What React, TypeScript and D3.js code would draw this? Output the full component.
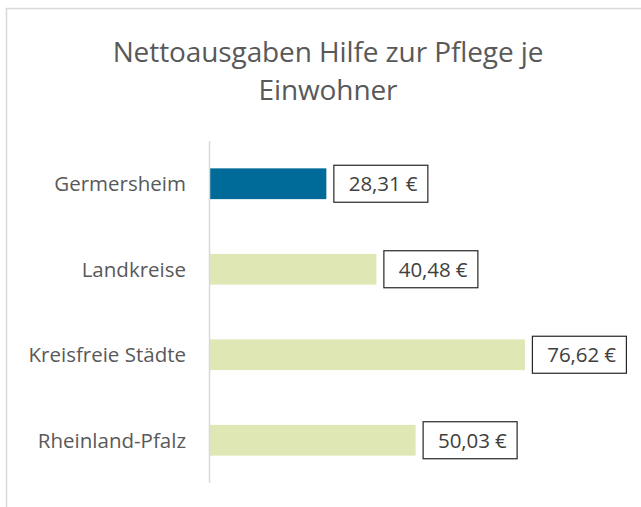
import React, { useEffect, useRef } from 'react';
import * as d3 from 'd3';

const categories = ['Germersheim', 'Landkreise', 'Kreisfreie Städte', 'Rheinland-Pfalz'];
const values = [28.31, 40.48, 76.62, 50.03];
const titleLines = ['Nettoausgaben Hilfe zur Pflege je', 'Einwohner'];

const W = 641;
const H = 507;
const FONT = "'Open Sans', 'Noto Sans', sans-serif";

const App: React.FC = () => {
  const svgRef = useRef<SVGSVGElement>(null);

  useEffect(() => {
    if (!svgRef.current) return;
    const svg = d3.select(svgRef.current);
    svg.selectAll('*').remove();

    // chart frame
    svg.append('rect')
      .attr('x', 6.5).attr('y', 8.5)
      .attr('width', W + 10).attr('height', H + 10)
      .attr('fill', '#fff')
      .attr('stroke', '#d9d9d9')
      .attr('stroke-width', 1.5);

    // title
    svg.append('g')
      .selectAll('text')
      .data(titleLines)
      .join('text')
      .attr('x', 328)
      .attr('y', (d, i) => 62 + i * 38)
      .attr('text-anchor', 'middle')
      .attr('fill', '#595959')
      .style('font-family', FONT)
      .style('font-size', '28px')
      .style('letter-spacing', '-0.1px')
      .text(d => d);

    const x = d3.scaleLinear().domain([0, 80]).range([210, 210 + 80 * 4.11]);
    const y = d3.scaleBand<string>()
      .domain(categories)
      .range([141, 483])
      .paddingInner(0.64)
      .paddingOuter(0.32);

    // bars
    svg.append('g')
      .selectAll('rect')
      .data(categories)
      .join('rect')
      .attr('x', x(0))
      .attr('y', d => y(d)!)
      .attr('width', (d, i) => x(values[i]) - x(0))
      .attr('height', y.bandwidth())
      .attr('fill', (d, i) => (i === 0 ? '#006a98' : '#dfe7b5'));

    // axis line
    svg.append('line')
      .attr('x1', 209.5).attr('x2', 209.5)
      .attr('y1', 141).attr('y2', 483)
      .attr('stroke', '#d9d9d9')
      .attr('stroke-width', 1.5);

    // category labels
    svg.append('g')
      .selectAll('text')
      .data(categories)
      .join('text')
      .attr('x', 186)
      .attr('y', d => y(d)! + y.bandwidth() / 2)
      .attr('dy', '0.36em')
      .attr('text-anchor', 'end')
      .attr('fill', '#595959')
      .style('font-family', FONT)
      .style('font-size', '20.5px')
      .style('letter-spacing', '0px')
      .text(d => d);

    // value labels in boxes
    const fmt = (v: number) => v.toFixed(2).replace('.', ',') + ' €';
    const lbl = svg.append('g')
      .selectAll('g')
      .data(categories)
      .join('g')
      .attr('transform', (d, i) => `translate(${x(values[i]) + 7},${y(d)! + y.bandwidth() / 2})`);

    lbl.append('rect')
      .attr('x', 0.5).attr('y', -18.5)
      .attr('width', 94).attr('height', 37)
      .attr('fill', '#fff')
      .attr('stroke', '#262626')
      .attr('stroke-width', 1.2);

    lbl.append('text')
      .attr('x', 84)
      .attr('dy', '0.36em')
      .attr('text-anchor', 'end')
      .attr('fill', '#404040')
      .style('font-family', FONT)
      .style('font-size', '20.5px')
      .style('letter-spacing', '-0.1px')
      .text((d, i) => fmt(values[i]));
  }, []);

  return (
    <div style={{ position: 'absolute', left: 0, top: 0, width: W, height: H, overflow: 'hidden', background: '#fff' }}>
      <svg ref={svgRef} width={W} height={H} style={{ display: 'block' }} />
    </div>
  );
};

export default App;
